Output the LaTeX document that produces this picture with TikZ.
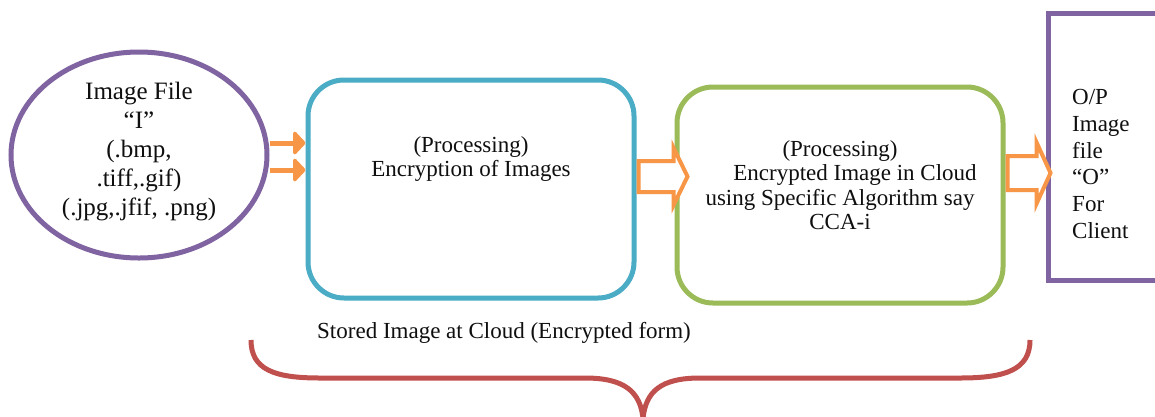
\documentclass[tikz,border=0pt]{standalone}
\usepackage{fontspec}
\setmainfont{Liberation Serif}
\usetikzlibrary{shapes.geometric,shapes.arrows,arrows.meta}
\definecolor{cpurple}{RGB}{128,100,162}
\definecolor{cblue}{RGB}{75,172,198}
\definecolor{cgreen}{RGB}{155,187,89}
\definecolor{corange}{RGB}{247,150,70}
\definecolor{cred}{RGB}{192,80,77}
\definecolor{ctext}{RGB}{15,15,15}
\begin{document}
\begin{tikzpicture}[x=1pt,y=-1pt,
  boxshape/.style={draw, line width=5pt, rounded corners=36pt, inner sep=0pt},
  txt/.style={font=\fontsize{23}{24.5}\selectfont, text=ctext, align=center, inner sep=0pt},
  dblarrow/.style={draw=corange, line width=5pt, -{Triangle[width=27pt,length=13pt,round]}},
  blockarrow/.style={single arrow, draw=corange, fill=white, line width=4pt, inner xsep=0pt, single arrow head indent=0pt, anchor=west},
  bracestyle/.style={draw=cred, line width=5pt}
]
\useasboundingbox (0,0) rectangle (1155,416);
\fill[white] (0,0) rectangle (1155,416);

\node[ellipse, draw=cpurple, line width=5pt, minimum width=256pt, minimum height=206pt, inner sep=0pt] (img) at (139,155) {};
\node[txt, font=\fontsize{25}{29}\selectfont] (imgtxt) at (139,152) {Image File\\“I”\\(.bmp,\\.tiff,.gif)\\(.jpg,.jfif, .png)};

\node[boxshape, draw=cblue, minimum width=326pt, minimum height=218pt] (enc) at (471,189) {};
\node[txt] (enctxt) at (471,159) {(Processing)\\Encryption of Images};

\node[boxshape, draw=cgreen, minimum width=326pt, minimum height=216pt] (cloud) at (840,195) {};
\node[txt] (cloudtxt) at (840,185) {(Processing)\\\hspace*{30pt}Encrypted Image in Cloud\\using Specific Algorithm say\\CCA-i};

\node[draw=cpurple, line width=5pt, minimum width=127pt, minimum height=267pt, inner sep=0pt] (out) at (1111.5,146.5) {};
\node[txt, align=left, anchor=west, font=\fontsize{23}{26.8}\selectfont] (outtxt) at (1072,164) {O/P\\Image\\file\\“O”\\For\\Client};

\coordinate (ya) at (0,143);
\coordinate (yb) at (0,170);
\draw[dblarrow] (img.east |- ya) -- (enc.west |- ya);
\draw[dblarrow] (img.east |- yb) -- (enc.west |- yb);

\coordinate (yc) at (0,176.5);
\node[blockarrow, minimum height=49pt, inner ysep=13.5pt, single arrow head extend=13pt, single arrow tip angle=128] (a1) at (enc.east |- yc) {};
\coordinate (yd) at (0,173);
\node[blockarrow, minimum height=43pt, inner ysep=15pt, single arrow head extend=13.5pt, single arrow tip angle=131] (a2) at (cloud.east |- yd) {};

\node[txt, anchor=west] (stored) at (317,333) {Stored Image at Cloud (Encrypted form)};

\coordinate (bl) at (251,340);
\coordinate (br) at (1030,340);
\coordinate (bt) at (643,418);
\draw[bracestyle] (bl) .. controls (251,370) and (275,378) .. (320,378) -- (585,378) .. controls (625,378) and (640,392) .. (bt);
\draw[bracestyle] (br) .. controls (1030,370) and (1005,378) .. (960,378) -- (700,378) .. controls (660,378) and (646,392) .. (bt);
\end{tikzpicture}
\end{document}
